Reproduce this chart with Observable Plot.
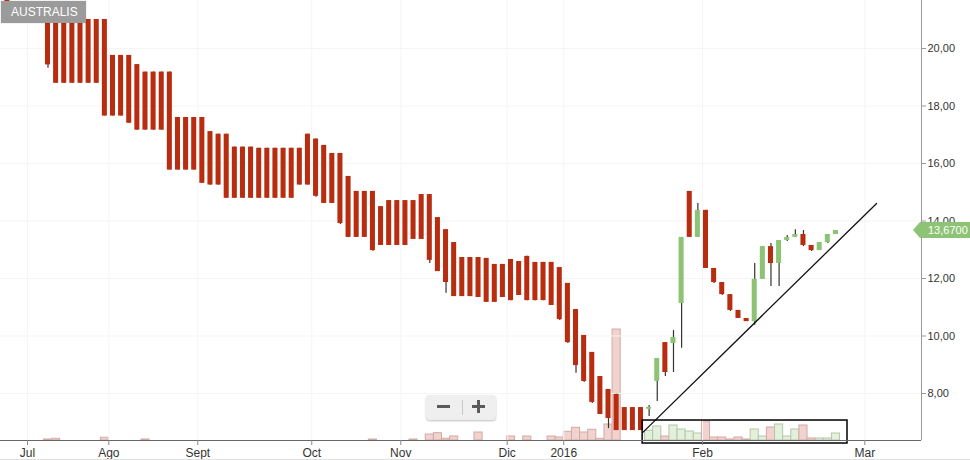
<!DOCTYPE html>
<html>
<head>
<meta charset="utf-8">
<script src="https://cdn.jsdelivr.net/npm/d3@7"></script>
<script src="https://cdn.jsdelivr.net/npm/@observablehq/plot@0.6"></script>
<style>
  html, body { margin: 0; padding: 0; background: #fff; }
  #wrap { position: relative; width: 970px; height: 460px; overflow: hidden; font-family: "Liberation Sans", Arial, sans-serif; }
  #wrap > svg, #wrap > figure { position: absolute; left: 0; top: 0; margin: 0; }
  #title { position: absolute; left: 1px; top: 1px; width: 85px; height: 22px; background: #9b9b9b; color: #fff;
           font-size: 12px; line-height: 22px; padding-left: 10px; box-sizing: border-box; box-shadow: 0 0 1px rgba(0,0,0,.3); }
  #zoomctl { position: absolute; left: 426px; top: 395px; width: 70px; height: 25px; background: #efefef; border-radius: 4px;
             box-shadow: 0 1px 2px rgba(0,0,0,.25); }
  #zoomctl div { position: absolute; background: #5a5a5a; }
  #bottomline { position: absolute; left: 0; top: 459px; width: 970px; height: 1px; background: #e0e0e0; }
</style>
</head>
<body>
<div id="wrap"></div>
<script>
// ---------- data (index = trading session position) ----------
const open  = [22.0,21.4,21.4,21.4,21.3,21.01,21.01,21.01,21.01,21.01,21.01,21.01,21.01,19.76,19.76,19.76,19.44,19.18,19.18,19.18,
               19.18,17.60,17.60,17.60,17.60,17.11,17.02,17.02,16.57,16.57,16.57,16.53,16.53,16.53,16.53,16.53,16.53,17.02,16.85,16.63,
               16.35,16.35,15.55,15.03,15.03,15.03,14.50,14.71,14.71,14.71,14.71,14.92,14.92,14.12,13.70,13.25,12.73,12.73,12.73,12.70,
               12.49,12.49,12.66,12.59,12.77,12.56,12.56,12.56,12.38,11.83,10.92,10.02,9.43,8.59,8.14,7.97,7.51,7.51,7.51,7.45,
               8.42,9.77,9.74,11.13,15.03,13.43,14.37,12.35,11.86,11.44,10.89,10.61,10.50,11.97,13.11,12.52,13.32,13.43,13.53,13.15,
               12.97,13.25,13.53];
const close = [21.1,21.0,21.0,21.0,21.0,19.43,18.79,18.79,18.79,18.79,18.79,18.79,17.65,17.65,17.65,17.40,17.16,17.16,17.16,17.16,
               15.77,15.77,15.77,15.77,15.31,15.25,15.25,14.79,14.79,14.79,14.79,14.79,14.79,14.79,14.79,14.79,15.25,15.25,14.86,14.61,
               14.61,13.91,13.43,13.43,13.43,12.97,13.15,13.15,13.15,13.15,13.36,13.36,12.63,12.24,11.86,11.37,11.37,11.37,11.34,11.17,
               11.17,11.34,11.23,11.41,11.23,11.23,11.23,11.06,10.57,9.77,8.97,8.42,7.69,7.27,7.13,6.71,6.71,6.71,6.71,7.52,
               9.22,8.73,9.95,13.43,13.43,14.37,12.35,11.86,11.44,10.89,10.61,10.50,11.97,13.11,12.52,13.32,13.43,13.53,13.15,12.97,
               13.25,13.53,13.67];
const high  = [22.0,21.4,21.4,21.4,21.3,21.01,21.01,21.01,21.01,21.01,21.01,21.01,21.01,19.76,19.76,19.76,19.44,19.18,19.18,19.18,
               19.18,17.60,17.60,17.60,17.60,17.11,17.02,17.02,16.57,16.57,16.57,16.53,16.53,16.53,16.53,16.53,16.53,17.02,16.85,16.63,
               16.35,16.35,15.55,15.03,15.03,15.03,14.50,14.71,14.71,14.71,14.71,14.92,14.92,14.12,13.70,13.25,12.73,12.73,12.73,12.70,
               12.49,12.49,12.66,12.59,12.77,12.56,12.56,12.56,12.38,11.83,10.92,10.02,9.43,8.59,8.14,7.97,7.51,7.51,7.51,7.58,
               9.22,9.77,10.19,13.43,15.03,14.61,14.37,12.35,11.86,11.44,10.89,10.61,12.52,13.11,13.22,13.32,13.50,13.70,13.67,13.15,
               13.25,13.53,13.67];
const low   = [21.1,21.0,21.0,21.0,21.0,19.31,18.79,18.79,18.79,18.79,18.79,18.79,17.65,17.65,17.65,17.40,17.16,17.16,17.16,17.16,
               15.77,15.77,15.77,15.77,15.31,15.25,15.25,14.79,14.79,14.79,14.79,14.79,14.79,14.79,14.79,14.79,15.25,15.25,14.83,14.61,
               14.61,13.88,13.43,13.43,13.43,12.95,13.15,13.15,13.15,13.15,13.36,13.36,12.52,12.24,11.49,11.37,11.37,11.37,11.34,11.17,
               11.17,11.34,11.23,11.41,11.23,11.23,11.23,11.06,10.54,9.74,8.70,8.38,7.65,7.27,6.78,6.71,6.71,6.71,6.71,7.20,
               7.72,8.59,8.73,9.57,13.43,13.43,12.35,11.83,11.41,10.85,10.61,10.50,10.37,11.97,11.72,11.72,13.29,13.43,13.11,12.94,
               12.97,13.22,13.53];
// volume in thousands of shares (0 = no bar)
const volume = [0,0,0,0,0,10,17,0,0,0,0,0,27,0,0,0,0,10,0,0,
                0,0,0,0,0,0,0,0,0,0,0,0,0,0,0,0,0,0,0,0,
                0,0,0,0,0,10,0,0,0,0,10,0,60,73,17,40,0,0,80,0,
                0,0,40,0,40,0,0,40,30,87,127,80,107,17,160,1110,0,0,0,97,
                140,40,150,110,90,70,190,30,30,10,30,10,110,40,130,160,40,110,150,20,
                20,20,70];
const volumeUp = [0,0,0,0,0,0,0,0,0,0,0,0,0,0,0,0,0,0,0,0,
                  0,0,0,0,0,0,0,0,0,0,0,0,0,0,0,0,0,0,0,0,
                  0,0,0,0,0,0,0,0,0,0,0,0,0,0,0,0,0,0,0,0,
                  0,0,0,0,0,0,0,0,0,0,0,0,0,0,0,0,0,0,0,1,
                  1,0,1,1,1,1,0,0,0,0,0,0,1,1,0,1,1,1,0,0,
                  1,1,1];
const monthTicks  = [2.48, 12.49, 23.44, 37.47, 48.43, 61.53, 68.49, 85.57, 105.55];
const monthLabels = ["Jul", "Ago", "Sept", "Oct", "Nov", "Dic", "2016", "Feb", "Mar"];
const priceTicks  = [8, 10, 12, 14, 16, 18, 20];
const trendLine   = [{i: 78.2, p: 6.64}, {i: 107.0, p: 14.61}];
const volumeBox   = [{i1: 78.2, i2: 103.42, p1: 6.26, p2: 7.06}];
const lastPrice   = 13.67;
const titleText   = "AUSTRALIS";

// ---------- layout ----------
const W = 970, H = 460;
const xDomain = [-0.847, 112.53];
const yDomain = [6.365, 21.67];
const RED = "#b82c10", GREEN = "#8dc375";
const fmt = d => d.toFixed(2).replace(".", ",");

const candles = open.map((o, i) => ({i, open: o, close: close[i], high: high[i], low: low[i]}));
const vols = volume.map((v, i) => ({i, v, up: volumeUp[i]})).filter(d => d.v > 0);

const common = {
  width: W, height: H, marginLeft: 0, marginRight: 49, marginTop: 0, marginBottom: 20,
  style: {background: "transparent", fontFamily: "Liberation Sans, Arial, sans-serif", overflow: "visible"}
};

const volPlot = Plot.plot({
  ...common,
  x: {type: "linear", domain: xDomain, axis: null},
  y: {domain: [0, 4400], axis: null},
  marks: [
    Plot.rect(vols, {
      x1: d => d.i - 0.5, x2: d => d.i + 0.5, y1: 0, y2: "v",
      fill: d => d.up ? "#e3f0dc" : "#f0d2ce",
      stroke: d => d.up ? "#b5c6ac" : "#d3aaa5", strokeWidth: 1
    })
  ]
});

const pricePlot = Plot.plot({
  ...common,
  x: {type: "linear", domain: xDomain, axis: null},
  y: {domain: yDomain, axis: null},
  marks: [
    Plot.gridY(priceTicks, {stroke: "#f5f5f5", strokeOpacity: 1}),
    Plot.gridX(monthTicks, {stroke: "#f5f5f5", strokeOpacity: 1}),
    Plot.ruleX(candles, {x: "i", y1: "low", y2: "high", stroke: "#333", strokeWidth: 1.2}),
    Plot.rect(candles, {
      x1: d => d.i - 0.31, x2: d => d.i + 0.31, y1: "open", y2: "close",
      fill: d => d.close >= d.open ? GREEN : RED
    }),
    Plot.line(trendLine, {x: "i", y: "p", stroke: "#111", strokeWidth: 1.3}),
    Plot.rect(volumeBox, {x1: "i1", x2: "i2", y1: "p1", y2: "p2", fill: "none", stroke: "#000", strokeWidth: 1.5}),
    Plot.ruleY([yDomain[0]], {stroke: "#666"}),
    Plot.ruleX([xDomain[1]], {stroke: "#999"}),
    Plot.axisY(priceTicks, {
      anchor: "right", tickSize: 4, tickPadding: 2, tickFormat: fmt,
      fontSize: 11, stroke: "#999", fill: "#333"
    }),
    Plot.axisX(monthTicks, {
      anchor: "bottom", tickSize: 5, tickPadding: 3,
      tickFormat: d => monthLabels[monthTicks.indexOf(d)],
      fontSize: 12, stroke: "#888", fill: "#333"
    })
  ]
});

const wrap = document.getElementById("wrap");
wrap.appendChild(volPlot);
wrap.appendChild(pricePlot);

// price tag at last price, positioned via the plot's y scale
const yLast = pricePlot.scale("y").apply(lastPrice);
const svg = d3.select(pricePlot);
svg.append("path")
  .attr("d", `M913,${yLast} L920,${yLast - 8} L970,${yLast - 8} L970,${yLast + 8} L920,${yLast + 8} Z`)
  .attr("fill", GREEN);
svg.append("text")
  .attr("x", 928).attr("y", yLast).attr("dy", "0.35em")
  .attr("text-anchor", "start")
  .attr("fill", "#fff").attr("font-size", 11)
  .attr("font-family", "Liberation Sans, Arial, sans-serif")
  .text(lastPrice.toFixed(4).replace(".", ","));

// title tag
const t = document.createElement("div");
t.id = "title"; t.textContent = titleText;
wrap.appendChild(t);

// zoom control
const z = document.createElement("div");
z.id = "zoomctl";
z.innerHTML =
  '<div style="left:11px;top:10px;width:13px;height:3px"></div>' +
  '<div style="left:36px;top:5px;width:1px;height:15px;background:#c8c8c8"></div>' +
  '<div style="left:46px;top:10px;width:13px;height:3px"></div>' +
  '<div style="left:51px;top:5px;width:3px;height:13px"></div>';
wrap.appendChild(z);

const bl = document.createElement("div");
bl.id = "bottomline";
wrap.appendChild(bl);
</script>
</body>
</html>
